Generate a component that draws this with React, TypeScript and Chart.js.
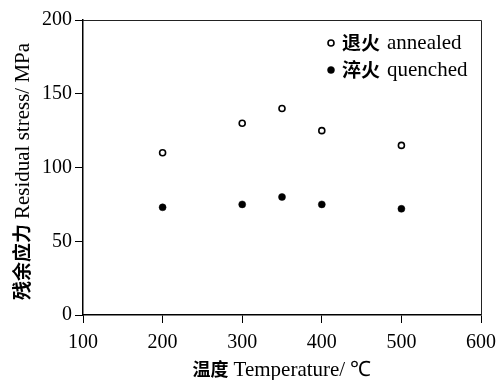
import React, { useEffect, useRef } from 'react';
import { Chart, registerables } from 'chart.js';

Chart.register(...registerables);

// ---- data ----
const temperatures = [200, 300, 350, 400, 500];
const annealedStress = [110, 130, 140, 125, 115];
const quenchedStress = [73, 75, 80, 75, 72];

const seriesZh = ['退火', '淬火'];
const seriesEn = ['annealed', 'quenched'];

const xTitleZh = '温度';
const xTitleEn = 'Temperature/ ℃';
const yTitleZh = '残余应力';
const yTitleEn = 'Residual stress/ MPa';

const xMin = 100;
const xMax = 600;
const xStep = 100;
const yMin = 0;
const yMax = 200;
const yStep = 50;

const SERIF = "'Liberation Serif', 'Times New Roman', serif";
const CJK = "'Noto Sans CJK SC', 'Noto Sans CJK JP', sans-serif";

function drawMixed(ctx: CanvasRenderingContext2D, zh: string, en: string, x: number, y: number, zhSize: number, enSize: number, align: 'left' | 'center', gap = 5) {
  ctx.font = `bold ${zhSize}px ${CJK}`;
  const wZh = ctx.measureText(zh).width;
  ctx.font = `${enSize}px ${SERIF}`;
  const wEn = ctx.measureText(en).width;
  const total = wZh + gap + wEn;
  const start = align === 'center' ? x - total / 2 : x;
  ctx.textAlign = 'left';
  ctx.font = `bold ${zhSize}px ${CJK}`;
  ctx.fillText(zh, start, y);
  ctx.font = `${enSize}px ${SERIF}`;
  ctx.fillText(en, start + wZh + gap, y);
}

const decorPlugin = {
  id: 'decor',
  beforeDatasetsDraw(chart: any) {
    const { ctx, chartArea } = chart;
    ctx.save();
    ctx.strokeStyle = '#222';
    ctx.lineWidth = 1;
    ctx.beginPath();
    ctx.moveTo(chartArea.left, chartArea.top + 0.5);
    ctx.lineTo(chartArea.right + 0.5, chartArea.top + 0.5);
    ctx.lineTo(chartArea.right + 0.5, chartArea.bottom);
    ctx.stroke();
    ctx.restore();
  },
  afterDraw(chart: any) {
    const { ctx, chartArea } = chart;
    ctx.save();
    ctx.fillStyle = '#000';
    // x title
    ctx.textBaseline = 'alphabetic';
    drawMixed(ctx, xTitleZh, xTitleEn, (chartArea.left + chartArea.right) / 2, 376, 18, 21, 'center');
    // y title
    ctx.save();
    ctx.translate(29, (chartArea.top + chartArea.bottom) / 2 + 4);
    ctx.rotate(-Math.PI / 2);
    drawMixed(ctx, yTitleZh, yTitleEn, 0, 0, 19, 21, 'center');
    ctx.restore();

    // legend
    const rows = [chartArea.top + 23, chartArea.top + 50];
    const mx = chartArea.left + 248;
    chart.data.datasets.forEach((ds: any, i: number) => {
      const y = rows[i];
      ctx.beginPath();
      ctx.arc(mx, y, ds.pointRadius, 0, Math.PI * 2);
      ctx.fillStyle = ds.pointBackgroundColor;
      ctx.fill();
      ctx.lineWidth = ds.pointBorderWidth;
      ctx.strokeStyle = ds.pointBorderColor;
      ctx.stroke();
      ctx.fillStyle = '#000';
      ctx.textBaseline = 'middle';
      drawMixed(ctx, seriesZh[i], seriesEn[i], mx + 11, y, 19, 21, 'left', 7);
    });
    ctx.restore();
  },
};

export default function App() {
  const ref = useRef<HTMLCanvasElement | null>(null);
  useEffect(() => {
    if (!ref.current) return;
    const chart = new Chart(ref.current, {
      type: 'scatter',
      data: {
        datasets: [
          {
            label: seriesEn[0],
            data: temperatures.map((t, i) => ({ x: t, y: annealedStress[i] })),
            pointStyle: 'circle',
            pointRadius: 3,
            pointBackgroundColor: '#fff',
            pointBorderColor: '#000',
            pointBorderWidth: 1.6,
            showLine: false,
          } as any,
          {
            label: seriesEn[1],
            data: temperatures.map((t, i) => ({ x: t, y: quenchedStress[i] })),
            pointStyle: 'circle',
            pointRadius: 3.5,
            pointBackgroundColor: '#000',
            pointBorderColor: '#000',
            pointBorderWidth: 0.5,
            showLine: false,
          } as any,
        ],
      },
      options: {
        animation: false,
        responsive: false,
        maintainAspectRatio: false,
        layout: { padding: { top: 20, right: 16, left: 0, bottom: 0 } },
        plugins: { legend: { display: false }, tooltip: { enabled: false } },
        scales: {
          x: {
            type: 'linear',
            min: xMin,
            max: xMax,
            afterFit: (s: any) => { s.height = 65; s.paddingLeft = 0; s.paddingRight = 0; },
            ticks: { stepSize: xStep, color: '#000', font: { family: SERIF, size: 20 }, padding: 8, maxRotation: 0 },
            grid: { drawOnChartArea: false, drawTicks: true, tickLength: 8, tickColor: '#000', tickWidth: 1 },
            border: { display: true, color: '#000', width: 1.5 },
          },
          y: {
            type: 'linear',
            min: yMin,
            max: yMax,
            afterFit: (s: any) => { s.width = 83; s.paddingTop = 0; s.paddingBottom = 0; },
            ticks: { stepSize: yStep, color: '#000', font: { family: SERIF, size: 20 }, padding: 3 },
            grid: { drawOnChartArea: false, drawTicks: true, tickLength: 8, tickColor: '#000', tickWidth: 1 },
            border: { display: true, color: '#000', width: 1.5 },
          },
        },
      } as any,
      plugins: [decorPlugin],
    });
    return () => chart.destroy();
  }, []);
  return (
    <div style={{ position: 'absolute', left: 0, top: 0, width: 497, height: 380, background: '#fff' }}>
      <canvas ref={ref} width={497} height={380} style={{ width: 497, height: 380, display: 'block' }} />
    </div>
  );
}
